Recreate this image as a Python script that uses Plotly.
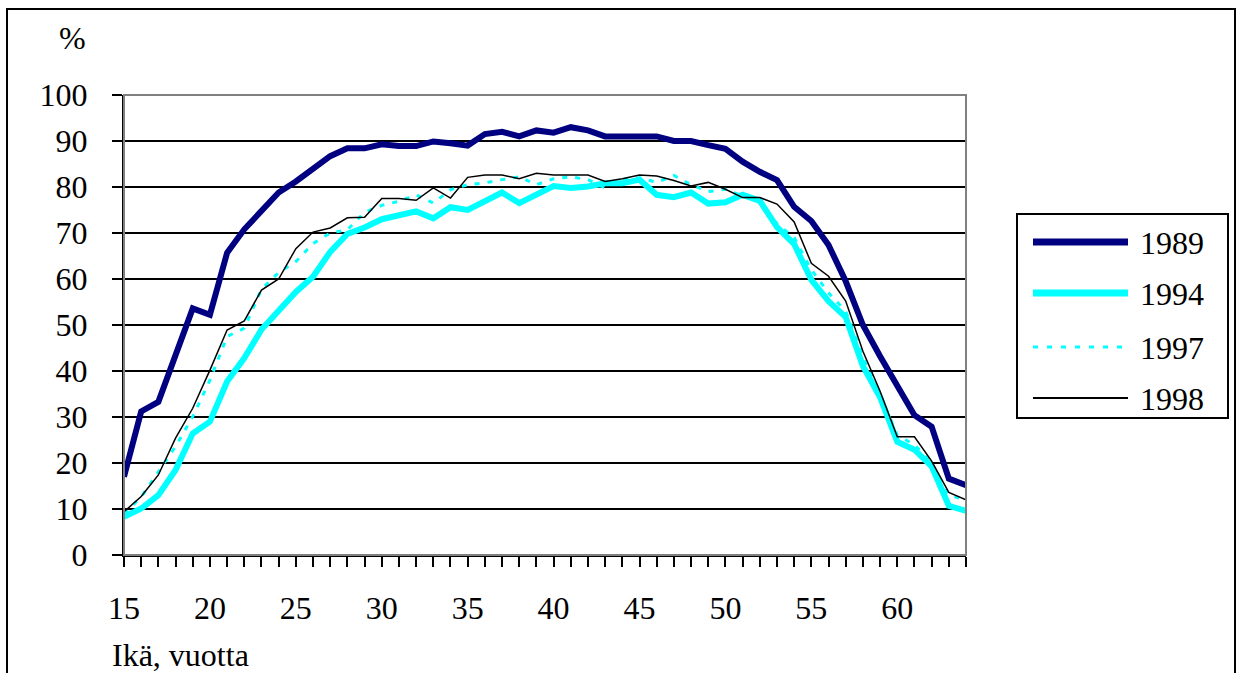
import plotly.graph_objects as go

ages = list(range(15, 65))

y1989 = [17.0, 31.2, 33.3, 43.8, 53.6, 52.2, 65.7, 70.8, 74.9, 78.8,
         81.2, 84.1, 86.7, 88.4, 88.4, 89.3, 88.9, 88.9, 89.9, 89.5,
         89.0, 91.5, 92.0, 91.0, 92.3, 91.8, 93.0, 92.3, 91.0, 91.0,
         91.0, 91.0, 90.0, 90.0, 89.1, 88.3, 85.5, 83.3, 81.5, 75.7,
         72.6, 67.4, 59.5, 50.0, 43.2, 37.1, 30.4, 27.9, 16.6, 15.2]

y1994 = [8.3, 10.1, 13.0, 18.5, 26.4, 29.0, 37.7, 42.8, 49.0, 53.0,
         57.2, 60.5, 65.9, 69.8, 71.2, 73.0, 74.0, 74.7, 73.2, 75.6,
         75.0, 77.0, 78.8, 76.5, 78.3, 80.2, 79.8, 80.1, 80.8, 80.8,
         81.6, 78.3, 77.8, 78.8, 76.4, 76.7, 78.3, 77.0, 71.3, 67.6,
         59.8, 55.2, 51.7, 41.1, 34.3, 24.6, 22.9, 19.3, 10.7, 9.6]

y1997 = [9.0, 12.6, 18.1, 23.6, 30.1, 38.0, 47.5, 49.3, 57.8, 61.4,
         63.8, 67.7, 70.0, 70.7, 74.5, 76.0, 76.9, 78.3, 76.5, 79.4,
         80.5, 80.9, 81.6, 82.2, 80.5, 81.8, 82.2, 81.6, 79.8, 81.6,
         82.0, 81.0, 82.5, 80.5, 79.0, 79.5, 78.0, 77.0, 72.0, 69.0,
         62.0, 57.0, 53.0, 43.0, 35.0, 26.0, 24.0, 20.0, 13.0, 12.0]

y1998 = [9.4, 12.7, 17.4, 25.4, 31.9, 40.2, 48.9, 50.9, 57.6, 60.0,
         66.6, 70.2, 71.1, 73.3, 73.4, 77.5, 77.5, 77.1, 79.8, 77.6,
         82.1, 82.6, 82.6, 81.8, 83.0, 82.6, 82.6, 82.6, 81.2, 81.8,
         82.6, 82.4, 81.4, 80.2, 81.0, 79.5, 77.7, 77.7, 76.3, 72.4,
         63.4, 60.6, 55.2, 44.3, 35.6, 25.7, 25.7, 20.4, 13.6, 12.0]

series_names = ["1989", "1994", "1997", "1998"]
x_tick_labels = [15, 20, 25, 30, 35, 40, 45, 50, 55, 60]
y_tick_vals = list(range(0, 101, 10))

FONT = "Liberation Serif, Times New Roman, serif"
FS = 32

W, H = 1237, 673
PL, PR, PT, PB = 124, 966, 95, 555   # plot area in page pixels


def px(x):
    return (x - PL) / (PR - PL)


def py(y):
    return (PB - y) / (PB - PT)


fig = go.Figure()
styles = [
    dict(color="#000080", width=6),
    dict(color="#00FFFF", width=6),
    dict(color="#00FFFF", width=3, dash="5px,8px"),
    dict(color="#000000", width=1.5),
]
for name, ys, st in zip(series_names, [y1989, y1994, y1997, y1998], styles):
    fig.add_trace(go.Scatter(x=ages, y=ys, mode="lines", name=name,
                             line=st, hoverinfo="skip", showlegend=False))

# plot-area border (gray, top & right)
fig.add_shape(type="rect", xref="x domain", yref="y domain", x0=0, x1=1, y0=0, y1=1,
              line=dict(color="#808080", width=2), layer="above")
# outer chart frame
fig.add_shape(type="rect", xref="paper", yref="paper",
              x0=px(7), x1=px(1235), y0=py(700), y1=py(9),
              line=dict(color="black", width=2))

# legend box
fig.add_shape(type="rect", xref="paper", yref="paper",
              x0=px(1017), x1=px(1228), y0=py(418), y1=py(214),
              line=dict(color="black", width=2), fillcolor="white")
legend_y = [242, 293, 347, 398]
legend_styles = [
    dict(color="#000080", width=7),
    dict(color="#00FFFF", width=7),
    dict(color="#00FFFF", width=3, dash="5px,9px"),
    dict(color="#000000", width=2),
]
for name, ly, st in zip(series_names, legend_y, legend_styles):
    fig.add_shape(type="line", xref="paper", yref="paper",
                  x0=px(1033), x1=px(1128), y0=py(ly), y1=py(ly), line=st)
    fig.add_annotation(text=name, xref="paper", yref="paper",
                       x=px(1138), y=py(ly + 1), xanchor="left", yanchor="middle",
                       showarrow=False, font=dict(family=FONT, size=FS, color="black"))

fig.add_annotation(text="%", xref="paper", yref="paper", x=px(72), y=py(38),
                   xanchor="center", yanchor="middle", showarrow=False,
                   font=dict(family=FONT, size=FS, color="black"))
fig.add_annotation(text="Ikä, vuotta", xref="paper", yref="paper", x=px(110), y=py(655),
                   xanchor="left", yanchor="middle", showarrow=False,
                   font=dict(family=FONT, size=FS, color="black"))

fig.update_layout(
    width=W, height=H,
    margin=dict(l=PL, r=W - PR, t=PT, b=H - PB, pad=0),
    plot_bgcolor="white", paper_bgcolor="white",
    font=dict(family=FONT, size=FS, color="black"),
    showlegend=False,
    hovermode=False,
    xaxis=dict(range=[15, 64], tickmode="array", tickvals=x_tick_labels,
               ticktext=[str(v) for v in x_tick_labels],
               ticks="outside", ticklen=10, tickwidth=2, tickcolor="black",
               showline=True, linecolor="black", linewidth=2, showgrid=False,
               zeroline=False, ticklabelstandoff=14,
               minor=dict(dtick=1, tick0=15, ticks="outside", ticklen=10,
                          tickwidth=2, tickcolor="black", showgrid=False)),
    yaxis=dict(range=[0, 100], tickmode="array", tickvals=y_tick_vals,
               ticks="outside", ticklen=10, tickwidth=2, tickcolor="black",
               showline=True, linecolor="black", linewidth=2,
               showgrid=True, gridcolor="black", gridwidth=2,
               zeroline=False, ticklabelstandoff=18),
)

fig.write_html("out.html",
               config={"displayModeBar": False, "staticPlot": True},
               post_script="document.body.style.margin='0';document.body.style.overflow='hidden';")
